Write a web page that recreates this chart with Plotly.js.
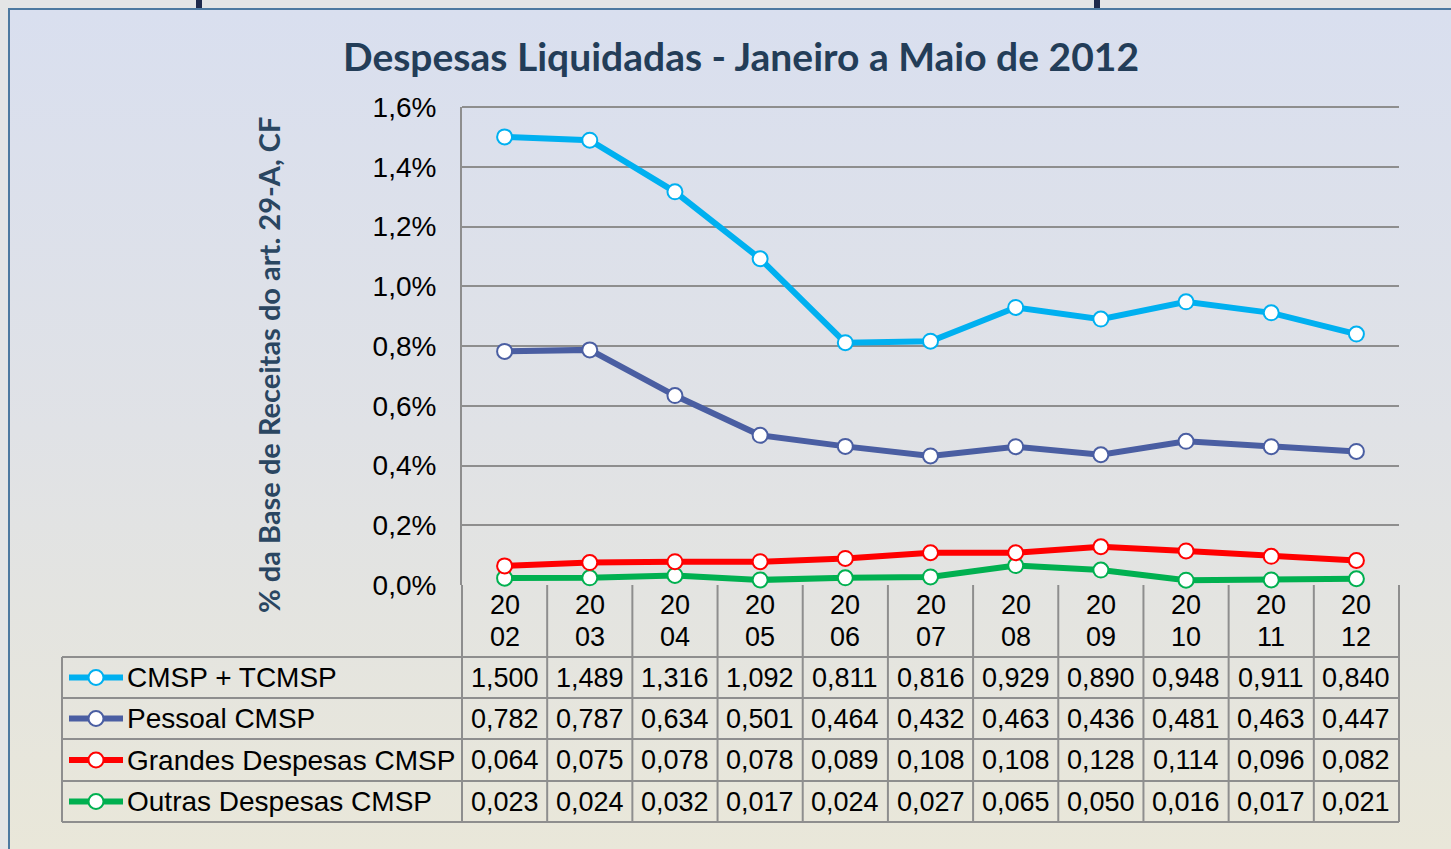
<!DOCTYPE html>
<html>
<head>
<meta charset="utf-8">
<script src="https://cdn.plot.ly/plotly-3.0.1.min.js"></script>
<style>
  html, body { margin:0; padding:0; width:1451px; height:849px; overflow:hidden; background:#e4e5e6; }
  #frame { position:absolute; left:8px; top:8px; width:1443px; height:841px;
           border-left:2px solid #4d79a0; border-top:2px solid #4d79a0;
           background: linear-gradient(to bottom, #d9dfef 0%, #e0e2e6 50%, #e9e7d9 100%); }
  .bar { position:absolute; top:0; width:6px; height:8px; background:#1f2a4c; }
  #chart { position:absolute; left:0; top:0; width:1451px; height:849px; }
</style>
</head>
<body>
<div id="frame"></div>
<div class="bar" style="left:196px"></div>
<div class="bar" style="left:1094px"></div>
<div id="chart"></div>
<script>
// ---- data ----
const categories = ['2002','2003','2004','2005','2006','2007','2008','2009','2010','2011','2012'];
const cmspTcmsp  = [1.500,1.489,1.316,1.092,0.811,0.816,0.929,0.890,0.948,0.911,0.840];
const pessoal    = [0.782,0.787,0.634,0.501,0.464,0.432,0.463,0.436,0.481,0.463,0.447];
const grandes    = [0.064,0.075,0.078,0.078,0.089,0.108,0.108,0.128,0.114,0.096,0.082];
const outras     = [0.023,0.024,0.032,0.017,0.024,0.027,0.065,0.050,0.016,0.017,0.021];
const seriesNames  = ['CMSP + TCMSP','Pessoal CMSP','Grandes Despesas CMSP','Outras Despesas CMSP'];
const seriesValues = [cmspTcmsp, pessoal, grandes, outras];
const seriesColors = ['#00b0f0','#4a5ea2','#ff0000','#00b050'];
const yTicks = [0,0.2,0.4,0.6,0.8,1.0,1.2,1.4,1.6];
const yTickText = yTicks.map(v => v.toFixed(1).replace('.', ',') + '%');

// ---- geometry (pixels) ----
const W = 1451, H = 849;
const plotL = 462, plotR = 1399, plotT = 107, plotB = 585;
const pw = plotR - plotL, ph = plotB - plotT;
const px2x = p => (p - plotL) / pw;
const px2y = p => (plotB - p) / ph;
const rowLines = [657, 698, 739, 781, 822];
const rowCenters = [677.5, 718.5, 760, 801.5];
const tableLeft = 62;
const n = categories.length;

const FONT = 'Liberation Sans, Arial, sans-serif';
const fmt = v => v.toFixed(3).replace('.', ',');

// ---- traces ----
const traces = seriesValues.map((vals, k) => ({
  type: 'scatter', mode: 'lines+markers',
  x: categories, y: vals, name: seriesNames[k],
  line: { color: seriesColors[k], width: 6 },
  marker: { size: 15, color: '#ffffff', line: { color: seriesColors[k], width: 2 } },
  cliponaxis: false, showlegend: false, hoverinfo: 'x+y'
}));
traces.reverse();

// ---- table shapes ----
const shapes = [];
const gridCol = '#8e8e8e';
// top gridline at 1,6%
shapes.push({ type:'line', xref:'paper', yref:'paper', x0:0, x1:1, y0:1, y1:1, layer:'below',
  line:{color:gridCol, width:2} });
for (let i = 0; i <= n; i++) {
  shapes.push({ type:'line', xref:'paper', yref:'paper', x0:i/n, x1:i/n,
    y0:0, y1:px2y(rowLines[rowLines.length-1]), line:{color:gridCol, width:2} });
}
rowLines.forEach(p => shapes.push({ type:'line', xref:'paper', yref:'paper',
  x0:px2x(tableLeft), x1:1, y0:px2y(p), y1:px2y(p), line:{color:gridCol, width:2} }));
shapes.push({ type:'line', xref:'paper', yref:'paper', x0:px2x(tableLeft), x1:px2x(tableLeft),
  y0:px2y(rowLines[0]), y1:px2y(rowLines[rowLines.length-1]), line:{color:gridCol, width:2} });

// legend samples
const annotations = [];
seriesNames.forEach((name, k) => {
  const yc = px2y(rowCenters[k]);
  shapes.push({ type:'line', xref:'paper', yref:'paper', x0:px2x(69), x1:px2x(123), y0:yc, y1:yc,
    line:{color:seriesColors[k], width:6} });
  shapes.push({ type:'circle', xref:'paper', yref:'paper', xsizemode:'pixel', ysizemode:'pixel',
    xanchor:px2x(96), yanchor:yc, x0:-7.5, x1:7.5, y0:-7.5, y1:7.5,
    fillcolor:'#ffffff', line:{color:seriesColors[k], width:2} });
  annotations.push({ xref:'paper', yref:'paper', x:px2x(125), y:yc, xanchor:'left', yanchor:'middle',
    text:name, showarrow:false, font:{family:FONT, size:28, color:'#000'} });
  seriesValues[k].forEach((v, i) => annotations.push({
    xref:'x', yref:'paper', x:i, y:yc, xanchor:'center', yanchor:'middle',
    text:fmt(v), showarrow:false, font:{family:FONT, size:27, color:'#000'} }));
});
// header (categories split in two lines)
categories.forEach((c, i) => {
  annotations.push({ xref:'x', yref:'paper', x:i, y:px2y(605), xanchor:'center', yanchor:'middle',
    text:c.slice(0,2), showarrow:false, font:{family:FONT, size:27, color:'#000'} });
  annotations.push({ xref:'x', yref:'paper', x:i, y:px2y(637), xanchor:'center', yanchor:'middle',
    text:c.slice(2), showarrow:false, font:{family:FONT, size:27, color:'#000'} });
});
// y axis title
annotations.push({ xref:'paper', yref:'paper', x:px2x(268), y:px2y(365), xanchor:'center', yanchor:'middle',
  textangle:-90, text:'% da Base de Receitas do art. 29-A, CF', showarrow:false,
  font:{family:'Lato, Open Sans, sans-serif', size:29, color:'#2a4661', weight:700} });

const layout = {
  width: W, height: H,
  paper_bgcolor: 'rgba(0,0,0,0)', plot_bgcolor: 'rgba(0,0,0,0)',
  margin: { l: plotL, r: W - plotR, t: plotT, b: H - plotB, pad: 0 },
  separators: ',.',
  title: { text: 'Despesas Liquidadas - Janeiro a Maio de 2012', x: 741/W, xanchor:'center',
           y: 1 - 57/H, yanchor:'middle',
           font: { family:'Lato, Open Sans, sans-serif', size:39, color:'#233d58', weight:700 } },
  xaxis: { type:'category', range:[-0.5, n-0.5], showticklabels:false, showgrid:false,
           zeroline:false, showline:false, ticks:'', fixedrange:true },
  yaxis: { range:[0, 1.6], tickmode:'array', tickvals:yTicks, ticktext:yTickText,
           showgrid:true, gridcolor:gridCol, gridwidth:2, zeroline:false,
           showline:true, linecolor:gridCol, linewidth:2, ticks:'', ticklabelstandoff:18,
           tickfont:{family:FONT, size:28, color:'#000'}, fixedrange:true },
  shapes: shapes, annotations: annotations, showlegend:false
};

Plotly.newPlot('chart', traces, layout, { displayModeBar:false, staticPlot:true });
</script>
</body>
</html>
